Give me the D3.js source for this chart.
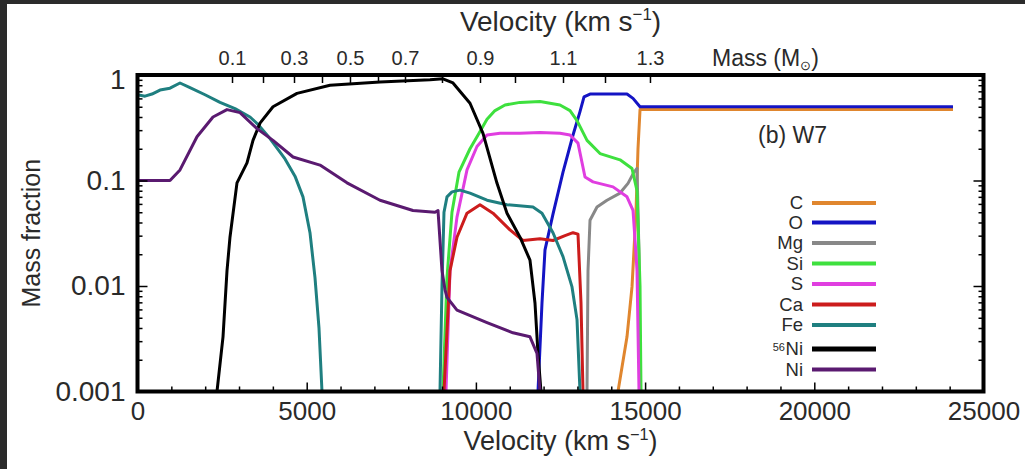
<!DOCTYPE html>
<html>
<head>
<meta charset="utf-8">
<script src="https://cdn.jsdelivr.net/npm/d3@7"></script>
<style>
  body { margin: 0; background: #2b2b2b; }
  text { font-family: "Liberation Sans", Arial, sans-serif; fill: #2a2a2a; }
</style>
</head>
<body>
<svg id="chart" width="1025" height="469"></svg>
<script>
// W7 model: mass fractions of elements against ejecta velocity (km/s).
// Each series is a list of [velocity, mass fraction]; 0 marks where the
// abundance falls below the plotted range (gap in the line).
const elementNames = ["C", "O", "Mg", "Si", "S", "Ca", "Fe", "56Ni", "Ni"];
const elementColors = ["#e0862e", "#1414c4", "#888888", "#3ee03e", "#e03ee0", "#cc1c1c", "#1f7f80", "#000000", "#5a1a70"];

const abundC = [[14199,0.001],[14465,0.0033],[14613,0.0098],[14731,0.05],[14790,0.2],[14850,0.47],[24098,0.47]];
const abundO = [[11835,0.001],[11953,0.0069],[12042,0.022],[12278,0.048],[12574,0.12],[12870,0.27],[13076,0.45],[13195,0.62],[13372,0.66],[14465,0.66],[14643,0.60],[14850,0.50],[24098,0.50]];
const abundMg = [[13283,0.001],[13313,0.014],[13372,0.042],[13579,0.056],[13874,0.065],[14259,0.076],[14495,0.094],[14672,0.12],[14761,0.13],[14820,0.02],[14850,0.001]];
const abundSi = [[9027,0.001],[9146,0.012],[9293,0.05],[9500,0.12],[9826,0.2],[10063,0.27],[10328,0.38],[10565,0.46],[10860,0.52],[11303,0.55],[11894,0.56],[12485,0.52],[12781,0.46],[12988,0.37],[13284,0.24],[13668,0.18],[14259,0.157],[14613,0.13],[14761,0.08],[14850,0.01],[14879,0.001]];
const abundS = [[9116,0.001],[9235,0.014],[9441,0.045],[9737,0.126],[10032,0.21],[10328,0.27],[10712,0.28],[11303,0.28],[11894,0.285],[12485,0.28],[12781,0.27],[13017,0.226],[13224,0.108],[13461,0.097],[14052,0.087],[14465,0.07],[14643,0.052],[14731,0.02],[14761,0.014],[14820,0.001]];
const abundCa = [[9057,0.001],[9235,0.014],[9441,0.029],[9737,0.049],[10121,0.059],[10505,0.049],[11007,0.034],[11392,0.027],[11894,0.028],[12278,0.027],[12633,0.030],[12870,0.032],[13017,0.031],[13106,0.0069],[13165,0.001]];
const abundFe = [[0,0.65],[222,0.63],[428,0.66],[665,0.72],[960,0.75],[1256,0.84],[1551,0.76],[1995,0.65],[2438,0.55],[2881,0.48],[3325,0.40],[3561,0.34],[3916,0.25],[4359,0.16],[4654,0.11],[4890,0.07],[5097,0.032],[5245,0.012],[5363,0.004],[5452,0.001],[5500,0],[8900,0],[8939,0.001],[8998,0.01],[9057,0.05],[9146,0.07],[9293,0.078],[9530,0.081],[9826,0.076],[10328,0.065],[10919,0.059],[11687,0.056],[11953,0.049],[12278,0.032],[12574,0.019],[12840,0.0098],[12988,0.0048],[13076,0.001]];
const abundNi56 = [[2349,0.001],[2527,0.0033],[2645,0.014],[2733,0.029],[2940,0.095],[3236,0.147],[3413,0.24],[3620,0.35],[4004,0.50],[4713,0.67],[5688,0.80],[7166,0.86],[8643,0.90],[9027,0.92],[9323,0.84],[9826,0.54],[10210,0.28],[10624,0.094],[10919,0.049],[11303,0.029],[11598,0.0176],[11746,0.0069],[11835,0.0023],[11924,0.001]];
const abundNi = [[0,0.10],[960,0.10],[1256,0.126],[1758,0.26],[2231,0.40],[2645,0.47],[3029,0.44],[3531,0.31],[4004,0.24],[4595,0.167],[5393,0.14],[6191,0.095],[7166,0.065],[8141,0.052],[8791,0.050],[8880,0.052],[8998,0.014],[9087,0.0092],[9146,0.0078],[9441,0.0059],[10328,0.0045],[11096,0.0036],[11598,0.0033],[11805,0.0023],[11894,0.001]];

const seriesData = [abundC, abundO, abundMg, abundSi, abundS, abundCa, abundFe, abundNi56, abundNi];

// Axis tick values
const velocityMajorTicks = [0, 5000, 10000, 15000, 20000, 25000];
const fractionTicks = [1, 0.1, 0.01, 0.001];
const fractionLabels = ["1", "0.1", "0.01", "0.001"];
// Enclosed mass (solar masses) and the velocity at which it is reached
const massTicks = [0.1, 0.2, 0.3, 0.4, 0.5, 0.6, 0.7, 0.8, 0.9, 1.0, 1.1, 1.2, 1.3];
const massTickVelocity = [2793, 3709, 4625, 5452, 6279, 7107, 7905, 8998, 10121, 11155, 12574, 13815, 15144];
const massLabelled = [0.1, 0.3, 0.5, 0.7, 0.9, 1.1, 1.3];

const W = 1025, H = 469;
const plot = { left: 137.5, right: 983.5, top: 75, bottom: 391.5 };
const legendRowY = [203, 222.5, 243, 263.5, 284, 304.5, 325, 349, 369.5];

const svg = d3.select("#chart");
svg.append("rect").attr("x", 0).attr("y", 0).attr("width", W).attr("height", H).attr("fill", "#2b2b2b");
svg.append("rect").attr("x", 7).attr("y", 4).attr("width", W - 7).attr("height", H - 4).attr("fill", "#ffffff");

const x = d3.scaleLinear().domain([0, 25000]).range([plot.left, plot.right]);
const y = d3.scaleLog().domain([0.001, 1]).range([plot.bottom, plot.top]);
const xMass = d3.scaleLinear().domain(massTicks).range(massTickVelocity.map(v => x(v)));

svg.append("defs").append("clipPath").attr("id", "plotClip")
  .append("rect").attr("x", plot.left).attr("y", plot.top)
  .attr("width", plot.right - plot.left).attr("height", plot.bottom - plot.top);

// Curves
const line = d3.line().defined(d => d[1] > 0).x(d => x(d[0])).y(d => y(d[1]));
const curves = svg.append("g").attr("clip-path", "url(#plotClip)");
seriesData.forEach((s, i) => {
  curves.append("path").datum(s).attr("d", line)
    .attr("fill", "none").attr("stroke", elementColors[i])
    .attr("stroke-width", 3).attr("stroke-linejoin", "round");
});

// Axes with inward ticks
const minorV = d3.range(0, 25001, 1000).filter(v => v % 5000 !== 0);
const minorF = [];
[0.001, 0.01, 0.1].forEach(d => { for (let k = 2; k <= 9; k++) minorF.push(d * k); });

function styleAxis(g) {
  g.select(".domain").remove();
  g.selectAll(".tick line").attr("stroke", "#000").attr("stroke-width", 1.5);
}

svg.append("g").attr("transform", `translate(0,${plot.bottom})`)
  .call(d3.axisBottom(x).tickValues(minorV).tickSize(-5).tickFormat(""))
  .call(styleAxis);
svg.append("g").attr("transform", `translate(0,${plot.bottom})`)
  .call(d3.axisBottom(x).tickValues(velocityMajorTicks).tickSize(-9).tickPadding(10).tickFormat(d3.format("d")))
  .call(styleAxis)
  .selectAll("text").attr("font-size", 26).attr("fill", "#2a2a2a");

svg.append("g").attr("transform", `translate(${plot.left},0)`)
  .call(d3.axisLeft(y).tickValues(minorF).tickSize(-5).tickFormat(""))
  .call(styleAxis);
const leftAxis = svg.append("g").attr("transform", `translate(${plot.left},0)`)
  .call(d3.axisLeft(y).tickValues(fractionTicks).tickSize(-10).tickPadding(12)
    .tickFormat((d, i) => fractionLabels[i]))
  .call(styleAxis);
leftAxis.selectAll("text").attr("font-size", 28).attr("fill", "#2a2a2a");
leftAxis.selectAll(".tick").filter(d => d === 1).select("text").attr("dy", "0.48em");

svg.append("g").attr("transform", `translate(${plot.right},0)`)
  .call(d3.axisRight(y).tickValues(minorF).tickSize(-5).tickFormat(""))
  .call(styleAxis);
svg.append("g").attr("transform", `translate(${plot.right},0)`)
  .call(d3.axisRight(y).tickValues(fractionTicks).tickSize(-10).tickFormat(""))
  .call(styleAxis);

svg.append("g").attr("transform", `translate(0,${plot.top})`)
  .call(d3.axisTop(xMass).tickValues(massTicks).tickSize(-8).tickPadding(10)
    .tickFormat(d => massLabelled.some(m => Math.abs(m - d) < 1e-9) ? d3.format(".1f")(d) : ""))
  .call(styleAxis)
  .selectAll("text").attr("font-size", 20).attr("fill", "#2a2a2a");

// Frame
svg.append("rect").attr("x", plot.left).attr("y", plot.top)
  .attr("width", plot.right - plot.left).attr("height", plot.bottom - plot.top)
  .attr("fill", "none").attr("stroke", "#000").attr("stroke-width", 4);

// Axis titles
function velocityTitle(ty, size) {
  const t = svg.append("text").attr("x", (plot.left + plot.right) / 2).attr("y", ty)
    .attr("text-anchor", "middle").attr("font-size", size);
  t.append("tspan").text("Velocity (km s");
  t.append("tspan").attr("font-size", size * 0.6).attr("dy", -size * 0.38).text("\u22121");
  t.append("tspan").attr("dy", size * 0.38).text(")");
}
velocityTitle(31, 28);
velocityTitle(450, 27);

const massTitle = svg.append("text").attr("x", 712).attr("y", 66).attr("font-size", 23);
massTitle.append("tspan").text("Mass (M");
massTitle.append("tspan").attr("font-size", 13).attr("dy", 4).text("\u2299");
massTitle.append("tspan").attr("dy", -4).text(")");

svg.append("text").attr("transform", `translate(40,${(plot.top + plot.bottom) / 2}) rotate(-90)`)
  .attr("text-anchor", "middle").attr("font-size", 25).text("Mass fraction");

svg.append("text").attr("x", 758).attr("y", 143).attr("font-size", 23).text("(b) W7");

// Legend
const legend = svg.append("g");
elementNames.forEach((name, i) => {
  const ly = legendRowY[i];
  if (name === "56Ni") {
    // mass number drawn as its own raised label left of the symbol
    legend.append("text").attr("x", 803).attr("y", ly).attr("dy", "0.35em")
      .attr("text-anchor", "end").attr("font-size", 18.5).text("Ni");
    legend.append("text").attr("x", 785).attr("y", ly + 1.5).attr("text-anchor", "end")
      .attr("font-size", 11).text("56");
  } else {
    legend.append("text").attr("x", 803).attr("y", ly).attr("dy", "0.35em")
      .attr("text-anchor", "end").attr("font-size", 18.5).text(name);
  }
  legend.append("line").attr("x1", 812).attr("x2", 876).attr("y1", ly).attr("y2", ly)
    .attr("stroke", elementColors[i]).attr("stroke-width", name === "56Ni" ? 5 : 4);
});
</script>
</body>
</html>
